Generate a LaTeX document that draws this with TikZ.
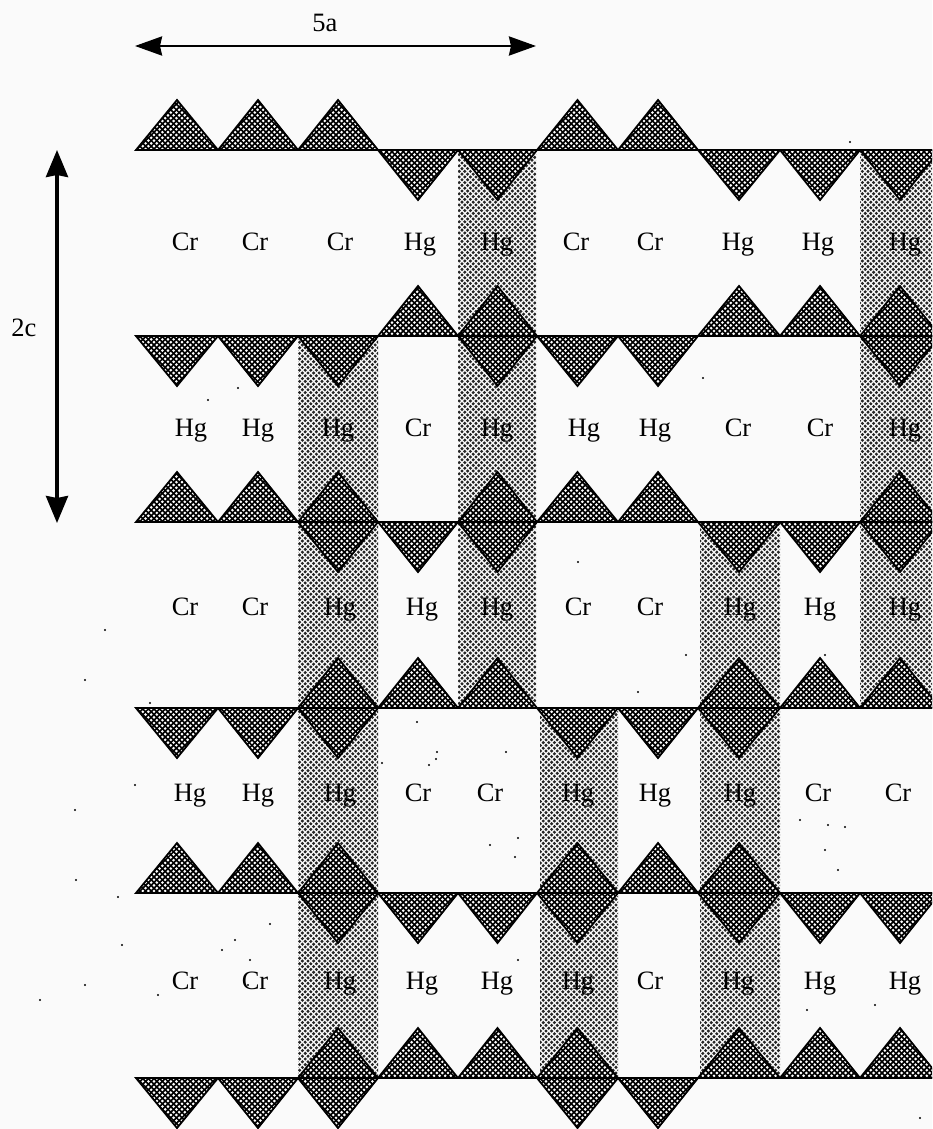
\documentclass[tikz,border=0pt]{standalone}
\usepackage{fontspec}
\setmainfont{Liberation Serif}
\usetikzlibrary{arrows.meta,patterns}
\definecolor{paper}{HTML}{FAFAFA}
\pgfdeclarepatternformonly{whitedots}{\pgfqpoint{-2pt}{-2pt}}{\pgfqpoint{7.6pt}{7.6pt}}{\pgfqpoint{5.6pt}{5.6pt}}{
  \pgfpathcircle{\pgfqpoint{0pt}{0pt}}{1.45pt}
  \pgfpathcircle{\pgfqpoint{2.8pt}{2.8pt}}{1.45pt}
  \pgfusepath{fill}}
\pgfdeclarepatternformonly{banddots}{\pgfqpoint{-2pt}{-2pt}}{\pgfqpoint{7.6pt}{7.6pt}}{\pgfqpoint{5.6pt}{5.6pt}}{
  \pgfpathcircle{\pgfqpoint{0pt}{0pt}}{1.7pt}
  \pgfpathcircle{\pgfqpoint{2.8pt}{2.8pt}}{1.7pt}
  \pgfusepath{fill}}
\newcommand{\colx}[1]{\ifcase#1 0\or136\or218\or298\or378\or458\or537\or618\or698\or780\or860\or940\fi}
\newcommand{\rowy}[1]{\ifcase#1 0\or150\or336\or522\or708\or893\or1078\fi}
\tikzset{
  tri/.style={draw=black,line width=1.8pt,line join=miter,preaction={fill=black},pattern=whitedots,pattern color=white},
  band/.style={pattern=banddots,pattern color=black!85},
  rule/.style={draw=black,line width=2.8pt},
  dimh/.style={draw=black,line width=2.6pt,{Stealth[length=27pt,width=19pt,inset=2pt]}-{Stealth[length=27pt,width=19pt,inset=2pt]}},
  dimv/.style={draw=black,line width=3.6pt,{Stealth[length=27pt,width=22pt,inset=2pt]}-{Stealth[length=27pt,width=22pt,inset=2pt]}},
  lab/.style={font=\fontsize{26.5}{27}\selectfont,inner sep=0pt,text=black,anchor=base},
  speck/.style={fill=black,circle,inner sep=0pt,minimum size=2.4pt}
}
\newcommand{\upT}[2]{\fill[tri] (\colx{#1},\rowy{#2}) -- ({(\colx{#1}+\colx{\numexpr#1+1\relax})/2},\rowy{#2}-50) -- (\colx{\numexpr#1+1\relax},\rowy{#2}) -- cycle;}
\newcommand{\dnT}[2]{\fill[tri] (\colx{#1},\rowy{#2}) -- ({(\colx{#1}+\colx{\numexpr#1+1\relax})/2},\rowy{#2}+50) -- (\colx{\numexpr#1+1\relax},\rowy{#2}) -- cycle;}
\begin{document}
\begin{tikzpicture}[x=1pt,y=-1pt]
\useasboundingbox (0,0) rectangle (932,1129);
\fill[paper] (0,0) rectangle (932,1129);
\begin{scope}
\clip (0,0) rectangle (932,1129);
% shaded bands
\fill[band] (458,150) rectangle (536,708);
\fill[band] (860,150) rectangle (940,708);
\fill[band] (298,336) rectangle (378,1078);
\fill[band] (700,522) rectangle (780,1078);
\fill[band] (540,708) rectangle (618,1078);
% triangles
\foreach \c in {1,2,3,6,7} {\upT{\c}{1}}
\foreach \c in {4,5,8,9,10} {\dnT{\c}{1}}
\foreach \c in {4,5,8,9,10} {\upT{\c}{2}}
\foreach \c in {1,2,3,5,6,7,10} {\dnT{\c}{2}}
\foreach \c in {1,2,3,5,6,7,10} {\upT{\c}{3}}
\foreach \c in {3,4,5,8,9,10} {\dnT{\c}{3}}
\foreach \c in {3,4,5,8,9,10} {\upT{\c}{4}}
\foreach \c in {1,2,3,6,7,8} {\dnT{\c}{4}}
\foreach \c in {1,2,3,6,7,8} {\upT{\c}{5}}
\foreach \c in {3,4,5,6,8,9,10} {\dnT{\c}{5}}
\foreach \c in {3,4,5,6,8,9,10} {\upT{\c}{6}}
\foreach \c in {1,2,3,6,7} {\dnT{\c}{6}}
% horizontal rules
\foreach \r in {1,...,6} {\draw[rule] (136,\rowy{\r}) -- (940,\rowy{\r});}
\end{scope}
% labels
\foreach \t/\x [count=\i] in {Cr/185,Cr/255,Cr/340,Hg/420,Hg/497,Cr/576,Cr/650,Hg/738,Hg/818,Hg/905}
  {\node[lab] (a\i) at (\x,250) {\t};}
\foreach \t/\x [count=\i] in {Hg/191,Hg/258,Hg/338,Cr/418,Hg/497,Hg/584,Hg/655,Cr/738,Cr/820,Hg/905}
  {\node[lab] (b\i) at (\x,436) {\t};}
\foreach \t/\x [count=\i] in {Cr/185,Cr/255,Hg/340,Hg/422,Hg/497,Cr/578,Cr/650,Hg/740,Hg/820,Hg/905}
  {\node[lab] (c\i) at (\x,615) {\t};}
\foreach \t/\x [count=\i] in {Hg/190,Hg/258,Hg/340,Cr/418,Cr/490,Hg/578,Hg/655,Hg/740,Cr/818,Cr/898}
  {\node[lab] (d\i) at (\x,801) {\t};}
\foreach \t/\x [count=\i] in {Cr/185,Cr/255,Hg/340,Hg/422,Hg/497,Hg/578,Cr/650,Hg/738,Hg/820,Hg/905}
  {\node[lab] (e\i) at (\x,989) {\t};}
% dimensions
\coordinate (hl) at (135,46);
\coordinate (hr) at (536,46);
\coordinate (vt) at (57,150);
\coordinate (vb) at (57,523);
\draw[dimh] (hl) -- (hr);
\draw[dimv] (vt) -- (vb);
\node[lab] (fivea) at (325,32) {5a};
\node[lab] (twoc) at (24,336) {2c};
% specks
\foreach \x/\y [count=\i] in {850/142,208/400,238/388,703/378,578/562,686/655,825/655,105/630,85/680,638/692,150/703,417/722,437/752,436/759,429/765,382/763,506/752,75/810,135/785,518/838,490/845,515/857,800/820,828/825,845/827,825/850,838/870,76/880,118/897,122/945,270/924,235/940,222/950,250/960,248/985,158/995,85/985,40/1000,518/960,807/1010,875/1005,920/1118}
  {\node[speck] (s\i) at (\x,\y) {};}
\end{tikzpicture}
\end{document}
